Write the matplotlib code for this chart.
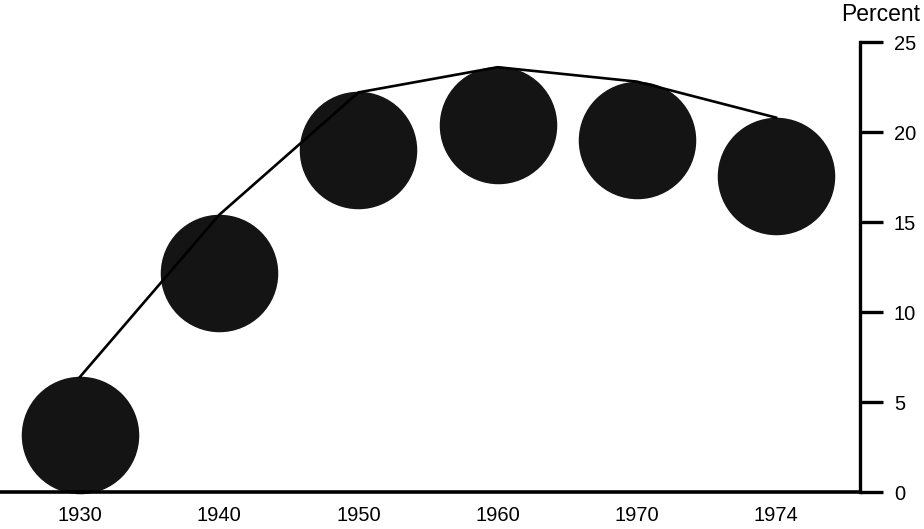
import matplotlib
matplotlib.use("Agg")
import matplotlib.pyplot as plt
from matplotlib.transforms import offset_copy

years = ["1930", "1940", "1950", "1960", "1970", "1974"]
percent = [6.4, 15.4, 22.2, 23.6, 22.8, 20.8]
yticks = [0, 5, 10, 15, 20, 25]

plt.rcParams['font.family'] = ['Liberation Sans', 'DejaVu Sans']

fig = plt.figure(figsize=(9.24, 5.29), dpi=100)
ax = fig.add_axes([0.0, 0.0699, 0.9307, 0.8507])

x = list(range(len(years)))
radius_pt = 41.8
trans = offset_copy(ax.transData, fig=fig, x=0, y=-radius_pt, units='points')
ax.plot(x, percent, linestyle='none', marker='o', markersize=2 * radius_pt,
        markerfacecolor='#141414', markeredgecolor='#141414', transform=trans,
        zorder=2, clip_on=False)
ax.plot(x, percent, color='black', linewidth=1.9, zorder=3, clip_on=False)

ax.set_xlim(-0.575, 5.603)
ax.set_ylim(0, 25)

for s in ['top', 'left']:
    ax.spines[s].set_visible(False)
ax.spines['right'].set_linewidth(2.4)
ax.spines['bottom'].set_linewidth(2.6)

ax.yaxis.tick_right()
ax.set_yticks(yticks)
ax.set_yticklabels([str(v) for v in yticks])
ax.tick_params(axis='y', direction='out', length=16.5, width=2.4, pad=8, labelsize=14.5)
ax.set_xticks(x)
ax.set_xticklabels(years)
ax.tick_params(axis='x', length=0, pad=10, labelsize=14.5)

ax.text(1.0 - 19 / 860, 1.035, "Percent", transform=ax.transAxes, ha='left',
        va='bottom', fontsize=16.5)

fig.savefig("out.png", dpi=100)
